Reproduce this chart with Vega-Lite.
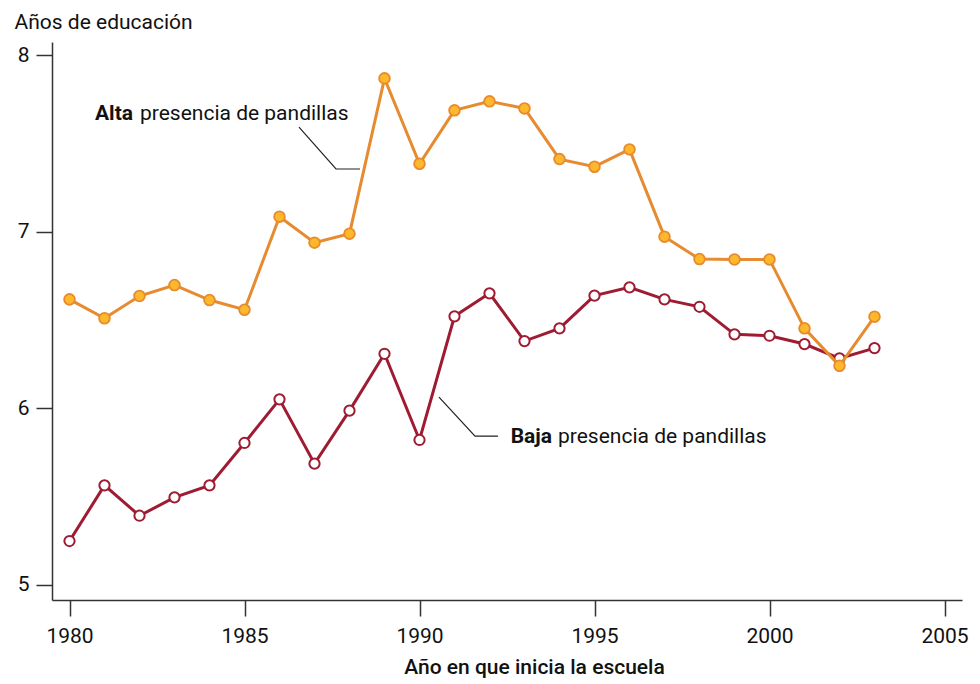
{
  "$schema": "https://vega.github.io/schema/vega-lite/v6.json",
  "width": 910,
  "height": 558,
  "autosize": "none",
  "padding": {"left": 52, "top": 42, "right": 18, "bottom": 84},
  "background": "white",
  "config": {"view": {"stroke": null}, "font": "Roboto, 'Liberation Sans', sans-serif"},
  "datasets": {
    "series": [
      {"year": 1980, "value": 6.617, "series": "Alta"},
      {"year": 1981, "value": 6.510, "series": "Alta"},
      {"year": 1982, "value": 6.636, "series": "Alta"},
      {"year": 1983, "value": 6.698, "series": "Alta"},
      {"year": 1984, "value": 6.613, "series": "Alta"},
      {"year": 1985, "value": 6.558, "series": "Alta"},
      {"year": 1986, "value": 7.085, "series": "Alta"},
      {"year": 1987, "value": 6.938, "series": "Alta"},
      {"year": 1988, "value": 6.989, "series": "Alta"},
      {"year": 1989, "value": 7.868, "series": "Alta"},
      {"year": 1990, "value": 7.385, "series": "Alta"},
      {"year": 1991, "value": 7.687, "series": "Alta"},
      {"year": 1992, "value": 7.738, "series": "Alta"},
      {"year": 1993, "value": 7.698, "series": "Alta"},
      {"year": 1994, "value": 7.411, "series": "Alta"},
      {"year": 1995, "value": 7.368, "series": "Alta"},
      {"year": 1996, "value": 7.466, "series": "Alta"},
      {"year": 1997, "value": 6.972, "series": "Alta"},
      {"year": 1998, "value": 6.845, "series": "Alta"},
      {"year": 1999, "value": 6.843, "series": "Alta"},
      {"year": 2000, "value": 6.843, "series": "Alta"},
      {"year": 2001, "value": 6.453, "series": "Alta"},
      {"year": 2002, "value": 6.241, "series": "Alta"},
      {"year": 2003, "value": 6.519, "series": "Alta"},
      {"year": 1980, "value": 5.249, "series": "Baja"},
      {"year": 1981, "value": 5.564, "series": "Baja"},
      {"year": 1982, "value": 5.392, "series": "Baja"},
      {"year": 1983, "value": 5.496, "series": "Baja"},
      {"year": 1984, "value": 5.564, "series": "Baja"},
      {"year": 1985, "value": 5.804, "series": "Baja"},
      {"year": 1986, "value": 6.051, "series": "Baja"},
      {"year": 1987, "value": 5.687, "series": "Baja"},
      {"year": 1988, "value": 5.987, "series": "Baja"},
      {"year": 1989, "value": 6.309, "series": "Baja"},
      {"year": 1990, "value": 5.821, "series": "Baja"},
      {"year": 1991, "value": 6.521, "series": "Baja"},
      {"year": 1992, "value": 6.651, "series": "Baja"},
      {"year": 1993, "value": 6.381, "series": "Baja"},
      {"year": 1994, "value": 6.453, "series": "Baja"},
      {"year": 1995, "value": 6.638, "series": "Baja"},
      {"year": 1996, "value": 6.685, "series": "Baja"},
      {"year": 1997, "value": 6.617, "series": "Baja"},
      {"year": 1998, "value": 6.575, "series": "Baja"},
      {"year": 1999, "value": 6.419, "series": "Baja"},
      {"year": 2000, "value": 6.411, "series": "Baja"},
      {"year": 2001, "value": 6.364, "series": "Baja"},
      {"year": 2002, "value": 6.283, "series": "Baja"},
      {"year": 2003, "value": 6.341, "series": "Baja"}
    ],
    "connectors": [
      {"x": 1986.557, "y": 7.592, "id": "Alta", "o": 1},
      {"x": 1987.614, "y": 7.355, "id": "Alta", "o": 2},
      {"x": 1988.3, "y": 7.355, "id": "Alta", "o": 3},
      {"x": 1990.557, "y": 6.064, "id": "Baja", "o": 1},
      {"x": 1991.586, "y": 5.843, "id": "Baja", "o": 2},
      {"x": 1992.243, "y": 5.843, "id": "Baja", "o": 3}
    ],
    "labels": [
      {"x": 1981.814, "y": 7.632, "text": "Alta", "part": "bold"},
      {"x": 1982.014, "y": 7.632, "text": "presencia de pandillas", "part": "normal"},
      {"x": 1993.786, "y": 5.802, "text": "Baja", "part": "bold"},
      {"x": 1993.957, "y": 5.802, "text": "presencia de pandillas", "part": "normal"}
    ]
  },
  "layer": [
    {
      "data": {"name": "connectors"},
      "mark": {"type": "line", "color": "#222222", "strokeWidth": 1.2},
      "encoding": {
        "x": {
          "field": "x", "type": "quantitative",
          "scale": {"domain": [1979.5, 2005.5], "nice": false, "zero": false},
          "axis": {
            "values": [1980, 1985, 1990, 1995, 2000, 2005],
            "format": "d",
            "grid": false,
            "tickSize": 16,
            "tickColor": "#333333",
            "tickWidth": 1.5,
            "domainColor": "#333333",
            "domainWidth": 1.5,
            "labelFontSize": 21,
            "labelColor": "#111111",
            "labelPadding": 9,
            "title": "Año en que inicia la escuela",
            "titleFontSize": 21,
            "titleFontWeight": 500,
            "titleColor": "#111111",
            "titlePadding": 10,
            "titleX": 482,
            "titleAnchor": null
          }
        },
        "y": {
          "field": "y", "type": "quantitative",
          "scale": {"domain": [4.915, 8.074], "nice": false, "zero": false},
          "axis": {
            "values": [5, 6, 7, 8],
            "format": "d",
            "grid": false,
            "tickSize": 16,
            "tickColor": "#333333",
            "tickWidth": 1.5,
            "domainColor": "#333333",
            "domainWidth": 1.5,
            "labelFontSize": 21,
            "labelColor": "#111111",
            "labelPadding": 7,
            "title": "Años de educación",
            "titleFontSize": 21,
            "titleFontWeight": "normal",
            "titleColor": "#111111",
            "titleAngle": 0,
            "titleAlign": "left",
            "titleBaseline": "alphabetic",
            "titleX": -38,
            "titleY": -14
          }
        },
        "detail": {"field": "id"},
        "order": {"field": "o"}
      }
    },
    {
      "data": {"name": "series"},
      "transform": [{"filter": "datum.series === 'Baja'"}],
      "mark": {"type": "line", "color": "#9E1B32", "strokeWidth": 3},
      "encoding": {
        "x": {"field": "year", "type": "quantitative"},
        "y": {"field": "value", "type": "quantitative"}
      }
    },
    {
      "data": {"name": "series"},
      "transform": [{"filter": "datum.series === 'Baja'"}],
      "mark": {"type": "point", "shape": "circle", "filled": true, "fill": "white", "stroke": "#9E1B32", "strokeWidth": 2, "size": 105, "opacity": 1},
      "encoding": {
        "x": {"field": "year", "type": "quantitative"},
        "y": {"field": "value", "type": "quantitative"}
      }
    },
    {
      "data": {"name": "series"},
      "transform": [{"filter": "datum.series === 'Alta'"}],
      "mark": {"type": "line", "color": "#E68B2F", "strokeWidth": 3},
      "encoding": {
        "x": {"field": "year", "type": "quantitative"},
        "y": {"field": "value", "type": "quantitative"}
      }
    },
    {
      "data": {"name": "series"},
      "transform": [{"filter": "datum.series === 'Alta'"}],
      "mark": {"type": "point", "shape": "circle", "filled": true, "fill": "#FDB82B", "stroke": "#E68B2F", "strokeWidth": 1.8, "size": 115, "opacity": 1},
      "encoding": {
        "x": {"field": "year", "type": "quantitative"},
        "y": {"field": "value", "type": "quantitative"}
      }
    },
    {
      "data": {"name": "labels"},
      "transform": [{"filter": "datum.part === 'bold'"}],
      "mark": {"type": "text", "align": "right", "baseline": "alphabetic", "fontSize": 21, "fontWeight": "bold", "color": "#111111"},
      "encoding": {
        "x": {"field": "x", "type": "quantitative"},
        "y": {"field": "y", "type": "quantitative"},
        "text": {"field": "text"}
      }
    },
    {
      "data": {"name": "labels"},
      "transform": [{"filter": "datum.part === 'normal'"}],
      "mark": {"type": "text", "align": "left", "baseline": "alphabetic", "fontSize": 21, "color": "#111111"},
      "encoding": {
        "x": {"field": "x", "type": "quantitative"},
        "y": {"field": "y", "type": "quantitative"},
        "text": {"field": "text"}
      }
    }
  ]
}
